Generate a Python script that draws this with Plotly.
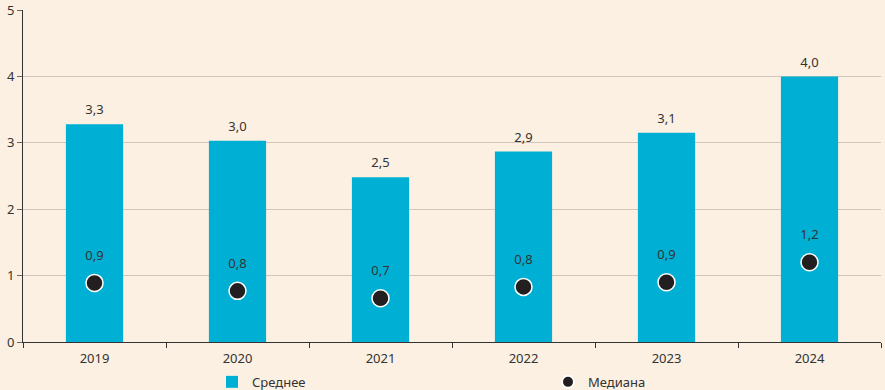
import plotly.graph_objects as go

years = ["2019", "2020", "2021", "2022", "2023", "2024"]
mean_vals = [3.28, 3.03, 2.48, 2.87, 3.15, 4.0]
mean_labels = ["3,3", "3,0", "2,5", "2,9", "3,1", "4,0"]
median_vals = [0.89, 0.77, 0.66, 0.83, 0.90, 1.20]
median_labels = ["0,9", "0,8", "0,7", "0,8", "0,9", "1,2"]

FONT = "Noto Sans"
BG = "#fcf0e2"
TXT = "#333333"

fig = go.Figure()
fig.add_trace(go.Bar(
    x=years, y=mean_vals, name="Среднее",
    marker=dict(color="#00b0d4", line=dict(width=0)),
    width=0.4, hoverinfo="y",
))
# value labels above bars (invisible marker sets the gap)
fig.add_trace(go.Scatter(
    x=years, y=mean_vals, mode="markers+text", showlegend=False,
    marker=dict(size=9, color="rgba(0,0,0,0)"),
    text=mean_labels, textposition="top center", cliponaxis=False,
    textfont=dict(size=13, color=TXT, family=FONT), hoverinfo="skip",
))
fig.add_trace(go.Scatter(
    x=years, y=median_vals, name="Медиана", mode="markers",
    marker=dict(size=17, color="#231f20", line=dict(color="white", width=1.5)),
))
fig.add_trace(go.Scatter(
    x=years, y=median_vals, mode="markers+text", showlegend=False,
    marker=dict(size=30, color="rgba(0,0,0,0)"),
    text=median_labels, textposition="top center", cliponaxis=False,
    textfont=dict(size=13, color=TXT, family=FONT), hoverinfo="skip",
))

fig.update_layout(
    width=885, height=390,
    margin=dict(l=23, r=4, t=10, b=48, autoexpand=False),
    paper_bgcolor=BG, plot_bgcolor=BG,
    font=dict(family=FONT, size=13, color=TXT),
    showlegend=True,
    legend=dict(
        orientation="h", x=(252 - 40 - 23) / 858, xanchor="left",
        y=-0.075, yanchor="top",
        entrywidth=291, entrywidthmode="pixels",
        font=dict(size=13, color=TXT),
        itemsizing="constant", bgcolor="rgba(0,0,0,0)",
        traceorder="normal",
    ),
    xaxis=dict(
        showgrid=False, showline=True, linecolor="#333333", linewidth=1,
        ticks="outside", tickson="boundaries", ticklen=5, tickcolor="#333333",
        ticklabelstandoff=4,
        tickfont=dict(size=13, color=TXT), fixedrange=True, automargin=False,
    ),
    yaxis=dict(
        range=[0, 5], dtick=1, showline=True, linecolor="#333333", linewidth=1,
        ticks="outside", ticklen=5, tickcolor="#666666",
        gridcolor="#cfc6bd", gridwidth=1, zeroline=False,
        tickfont=dict(size=13, color=TXT), fixedrange=True, automargin=False,
    ),
)

fig.write_html(
    "out.html",
    config={"displayModeBar": False},
    post_script="document.body.style.margin='0';document.body.style.background='" + BG + "';",
)
